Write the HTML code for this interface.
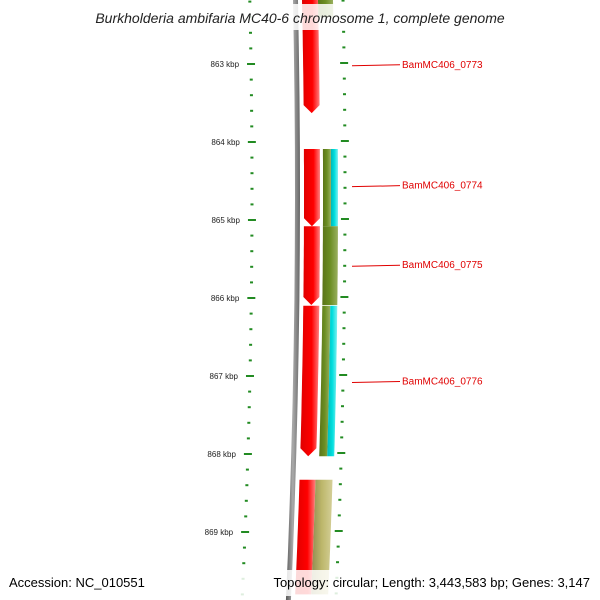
<!DOCTYPE html>
<html><head><meta charset="utf-8"><style>
body{margin:0;background:#fff;}
svg{display:block;font-family:"Liberation Sans",sans-serif;}
</style></head><body>
<svg id="map" width="600" height="600" viewBox="0 0 600 600">
<defs>
<linearGradient id="gGray" x1="0" x2="1"><stop offset="0" stop-color="#555"/><stop offset="0.5" stop-color="#aaa"/><stop offset="1" stop-color="#666"/></linearGradient>
<linearGradient id="gRed" x1="0" x2="1"><stop offset="0" stop-color="#e00000"/><stop offset="0.6" stop-color="#ff0000"/><stop offset="1" stop-color="#ff8080"/></linearGradient>
<linearGradient id="gOlive" x1="0" x2="1"><stop offset="0" stop-color="#5a7418"/><stop offset="0.5" stop-color="#6b8e23"/><stop offset="1" stop-color="#9bb060"/></linearGradient>
<linearGradient id="gCyan" x1="0" x2="1"><stop offset="0" stop-color="#00b8b8"/><stop offset="0.5" stop-color="#00dede"/><stop offset="1" stop-color="#80f0f0"/></linearGradient>
<linearGradient id="gKhaki" x1="0" x2="1"><stop offset="0" stop-color="#8f8a50"/><stop offset="0.5" stop-color="#bdb76b"/><stop offset="1" stop-color="#d4cf98"/></linearGradient>
</defs>
<g id="layer"></g>
<rect x="65" y="4" width="470" height="26" fill="#fff" opacity="0.85"/>
<text x="300" y="23" text-anchor="middle" font-size="14" font-style="italic" fill="#222">Burkholderia ambifaria MC40-6 chromosome 1, complete genome</text>
<rect x="0" y="570" width="600" height="26" fill="#fff" opacity="0.85"/>
<text x="9" y="587" font-size="13" fill="#000">Accession: NC_010551</text>
<text x="590" y="587" text-anchor="end" font-size="13" fill="#000">Topology: circular; Length: 3,443,583 bp; Genes: 3,147</text>
</svg>
<script>
const tickKbp=[863,864,865,866,867,868,869];
const redStarts=[862.0,864.09,865.08,866.1,868.33];
const redEnds=[863.63,865.08,866.09,868.03,869.8];
const oliveStarts=[862.0,864.09,865.08,866.1];
const oliveEnds=[862.4,865.08,866.09,868.03];
const oliveHasCyan=[false,true,false,true];
const khakiStarts=[868.33];
const khakiEnds=[869.8];
const geneLabels=['BamMC406_0773','BamMC406_0774','BamMC406_0775','BamMC406_0776'];
const geneLabelKbp=[863.01,864.56,865.58,867.07];

const NS='http://www.w3.org/2000/svg';
const layer=document.getElementById('layer');
const R=9216, YC=192;
function y(k){return 64+(k-863)*78;}
function bend(yy){return -((yy-YC)*(yy-YC))/(2*R);}
function mk(tag,attrs){const e=document.createElementNS(NS,tag);for(const a in attrs)e.setAttribute(a,attrs[a]);layer.appendChild(e);return e;}
function band(x0,x1,y0,y1,tip){
  const pts=[];const n=12;
  for(let i=0;i<=n;i++){const yy=y0+(y1-y0)*i/n;pts.push([x0+bend(yy),yy]);}
  if(tip){const yy=y1+8;pts.push([(x0+x1)/2+bend(yy),yy]);}
  for(let i=n;i>=0;i--){const yy=y0+(y1-y0)*i/n;pts.push([x1+bend(yy),yy]);}
  return pts.map(p=>p[0].toFixed(1)+','+p[1].toFixed(1)).join(' ');
}
// gray backbone
let g=mk('polygon',{points:band(295,300,-5,605,false),fill:'url(#gGray)'});


// ticks
for(let k=862;k<=870.0001;k+=0.2){
  const kk=Math.round(k*10)/10; const yy=y(kk); if(yy<-5||yy>605)continue;
  const major=Math.abs(kk-Math.round(kk))<0.01;
  const xl=252+bend(yy)*1.1, xr=345+bend(yy)*1.0;
  const w=major?8:3;
  let t=mk('rect',{x:xl-w/2,y:yy-1,width:w,height:2,fill:'#228b22'});
  
  
  let t2=mk('rect',{x:xr-w/2,y:yy-2,width:w,height:2,fill:'#228b22'});
  
  
}
tickKbp.forEach(k=>{
  const yy=y(k);
  let t=mk('text',{x:240+bend(yy)*1.1,y:yy+3,'text-anchor':'end','font-size':'8',fill:'#222'});
  t.textContent=k+' kbp';
  
  
});
// red features
redStarts.forEach((s,i)=>{
  const y0=y(s),y1=y(redEnds[i]);
  const tip=i<4;
  let p=mk('polygon',{points:band(304,320,y0,tip?y1-8:y1,tip),fill:'url(#gRed)'});
  
  
});
oliveStarts.forEach((s,i)=>{
  const y0=y(s),y1=y(oliveEnds[i]);
  const split=oliveHasCyan[i];
  let p=mk('polygon',{points:band(i==0?320:323,split?331:(i==0?335:338),y0,y1,false),fill:'url(#gOlive)'});
  
  
  if(split){
    let c=mk('polygon',{points:band(331,338,y0,y1,false),fill:'url(#gCyan)'});
    
    
  }
});
khakiStarts.forEach((s,i)=>{
  let p=mk('polygon',{points:band(320,337,y(s),y(khakiEnds[i]),false),fill:'url(#gKhaki)'});
  
  
});
geneLabels.forEach((lab,i)=>{
  const yy=y(geneLabelKbp[i]);
  let l=mk('line',{x1:352,y1:yy+1,x2:400,y2:yy,stroke:'#e00000','stroke-width':1});
  
  
  let t=mk('text',{x:402,y:yy+3,'font-size':'10',fill:'#e00000'});
  t.textContent=lab;
  
  
});
</script>
</body></html>
